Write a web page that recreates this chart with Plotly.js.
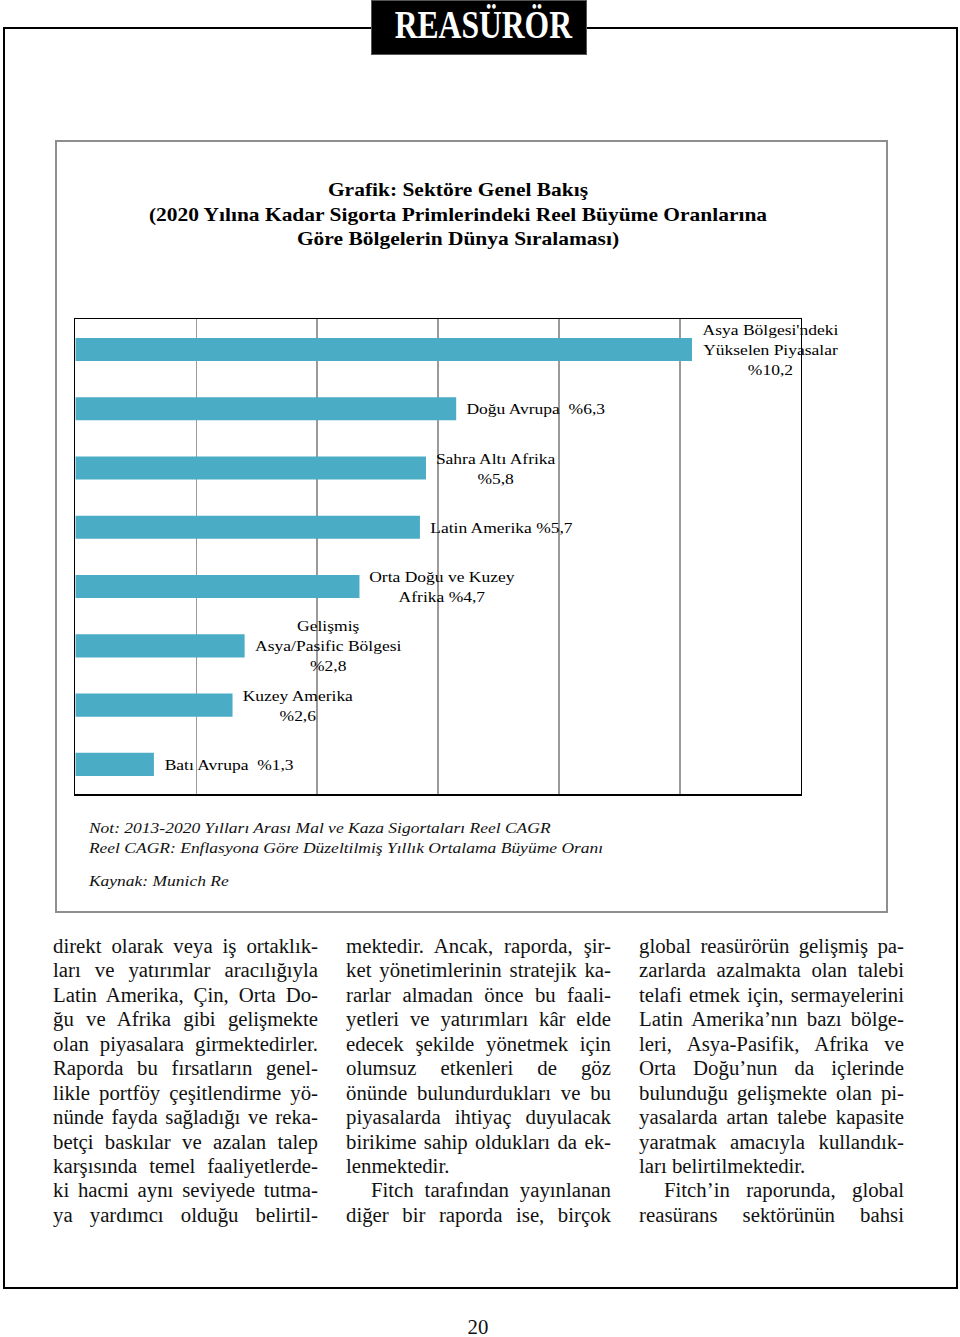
<!DOCTYPE html>
<html>
<head>
<meta charset="utf-8">
<script src="https://cdn.plot.ly/plotly-3.0.1.min.js"></script>
<style>
html,body{margin:0;padding:0;background:#fff;}
#page{position:relative;width:960px;height:1337px;overflow:hidden;background:#fff;font-family:"Liberation Serif","Times New Roman",serif;color:#111;}
#frame{position:absolute;left:3px;top:27px;width:955px;height:1262px;box-sizing:border-box;border:2px solid #000;}
#hdr{position:absolute;left:371px;top:0;width:216px;height:55px;background:#000;box-sizing:border-box;border:1px solid #555;}
#hdrtxt{position:absolute;left:0;top:4px;width:216px;text-align:center;font-size:40px;line-height:40px;font-weight:bold;color:#fff;transform:scaleX(0.79);transform-origin:50% 0;}
#chartwrap{position:absolute;left:55px;top:140px;width:832px;height:772px;overflow:hidden;}
#chart{position:absolute;left:0;top:0;transform-origin:0 0;}
#chartbox{position:absolute;left:55px;top:140px;width:833px;height:773px;box-sizing:border-box;border:2px solid #8e8e8e;pointer-events:none;}
.col{position:absolute;top:934px;width:265px;font-size:20.8px;}
.ln{height:24.45px;line-height:24.45px;text-align:justify;text-align-last:justify;}
.ln.end{text-align:left;text-align-last:left;}
.ln.ind{padding-left:25px;}
#pno{position:absolute;left:0;width:956px;top:1315px;text-align:center;font-size:20.8px;line-height:24px;}
</style>
</head>
<body>
<div id="page">
  <div id="frame"></div>
  <div id="hdr"><div id="hdrtxt">REASÜRÖR</div></div>
  <div id="chartwrap"><div id="chart"></div></div>
  <div id="chartbox"></div>

  <div class="col" style="left:53px;">
    <div class="ln">direkt olarak veya iş ortaklık-</div>
    <div class="ln">ları ve yatırımlar aracılığıyla</div>
    <div class="ln">Latin Amerika, Çin, Orta Do-</div>
    <div class="ln">ğu ve Afrika gibi gelişmekte</div>
    <div class="ln">olan piyasalara girmektedirler.</div>
    <div class="ln">Raporda bu fırsatların genel-</div>
    <div class="ln">likle portföy çeşitlendirme yö-</div>
    <div class="ln">nünde fayda sağladığı ve reka-</div>
    <div class="ln">betçi baskılar ve azalan talep</div>
    <div class="ln">karşısında temel faaliyetlerde-</div>
    <div class="ln">ki hacmi aynı seviyede tutma-</div>
    <div class="ln">ya yardımcı olduğu belirtil-</div>
  </div>
  <div class="col" style="left:346px;">
    <div class="ln">mektedir. Ancak, raporda, şir-</div>
    <div class="ln">ket yönetimlerinin stratejik ka-</div>
    <div class="ln">rarlar almadan önce bu faali-</div>
    <div class="ln">yetleri ve yatırımları kâr elde</div>
    <div class="ln">edecek şekilde yönetmek için</div>
    <div class="ln">olumsuz etkenleri de göz</div>
    <div class="ln">önünde bulundurdukları ve bu</div>
    <div class="ln">piyasalarda ihtiyaç duyulacak</div>
    <div class="ln">birikime sahip oldukları da ek-</div>
    <div class="ln end">lenmektedir.</div>
    <div class="ln ind">Fitch tarafından yayınlanan</div>
    <div class="ln">diğer bir raporda ise, birçok</div>
  </div>
  <div class="col" style="left:639px;">
    <div class="ln">global reasürörün gelişmiş pa-</div>
    <div class="ln">zarlarda azalmakta olan talebi</div>
    <div class="ln">telafi etmek için, sermayelerini</div>
    <div class="ln">Latin Amerika’nın bazı bölge-</div>
    <div class="ln">leri, Asya-Pasifik, Afrika ve</div>
    <div class="ln">Orta Doğu’nun da içlerinde</div>
    <div class="ln">bulunduğu gelişmekte olan pi-</div>
    <div class="ln">yasalarda artan talebe kapasite</div>
    <div class="ln">yaratmak amacıyla kullandık-</div>
    <div class="ln end">ları belirtilmektedir.</div>
    <div class="ln ind">Fitch’in raporunda, global</div>
    <div class="ln">reasürans sektörünün bahsi</div>
  </div>
  <div id="pno">20</div>
</div>

<script>
// ---- data ----
const categories = [
  "Asya Bölgesi'ndeki Yükselen Piyasalar",
  "Doğu Avrupa",
  "Sahra Altı Afrika",
  "Latin Amerika",
  "Orta Doğu ve Kuzey Afrika",
  "Gelişmiş Asya/Pasific Bölgesi",
  "Kuzey Amerika",
  "Batı Avrupa"
];
const values = [10.2, 6.3, 5.8, 5.7, 4.7, 2.8, 2.6, 1.3];
const labelTexts = [
  "Asya Bölgesi'ndeki<br>Yükselen Piyasalar<br>%10,2",
  "Doğu Avrupa\u00a0 %6,3",
  "Sahra Altı Afrika<br>%5,8",
  "Latin Amerika %5,7",
  "Orta Doğu ve Kuzey<br>Afrika %4,7",
  "Gelişmiş<br>Asya/Pasific Bölgesi<br>%2,8",
  "Kuzey Amerika<br>%2,6",
  "Batı Avrupa\u00a0 %1,3"
];
const xTickVals = [0, 2, 4, 6, 8, 10, 12];
const titleText = "Grafik: Sektöre Genel Bakış<br>(2020 Yılına Kadar Sigorta Primlerindeki Reel Büyüme Oranlarına<br>Göre Bölgelerin Dünya Sıralaması)";
const noteLines = [
  "Not: 2013-2020 Yılları Arası Mal ve Kaza Sigortaları Reel CAGR",
  "Reel CAGR: Enflasyona Göre Düzeltilmiş Yıllık Ortalama Büyüme Oranı",
  "Kaynak: Munich Re"
];

// ---- layout geometry (page pixels) ----
const S = 1.13;                 // horizontal stretch of the original chart image
const boxW = 832, boxH = 772;   // chart box
const W = boxW / S;
const mL = 20 / S, mR = 86 / S, mT = 179, mB = 118;
const plotH = boxH - mT - mB;   // 475
const plotWpx = boxW - 20 - 86; // 726 (page px)
const serif = '"Liberation Serif", "Times New Roman", serif';

function pyPaper(pageY) { return (794 - pageY) / plotH; }
function pxPaper(pageX) { return (pageX - 75) / plotWpx; }

const chartEl = document.getElementById('chart');
chartEl.style.width = W + 'px';
chartEl.style.height = boxH + 'px';
chartEl.style.transform = 'scaleX(' + S + ')';

const trace = {
  type: 'bar',
  orientation: 'h',
  y: categories,
  x: values,
  marker: { color: '#4bacc6', line: { width: 0 } },
  hoverinfo: 'skip'
};

const annotations = categories.map((c, i) => ({
  x: values[i], y: c, xref: 'x', yref: 'y',
  text: labelTexts[i], showarrow: false,
  xanchor: 'left', yanchor: 'middle', xshift: 7, align: 'center',
  font: { family: serif, size: 15.5, color: '#000' }
}));

const noteYs = [827, 847, 880];
noteLines.forEach((t, i) => {
  annotations.push({
    x: pxPaper(85), y: pyPaper(noteYs[i]), xref: 'paper', yref: 'paper',
    text: '<i>' + t + '</i>', showarrow: false,
    xanchor: 'left', yanchor: 'middle', align: 'left',
    font: { family: serif, size: 15.5, color: '#111' }
  });
});

const layout = {
  width: W, height: boxH,
  margin: { l: mL, r: mR, t: mT, b: mB, pad: 0 },
  paper_bgcolor: '#ffffff', plot_bgcolor: '#ffffff',
  showlegend: false,
  bargap: 0.61,
  title: {
    text: titleText,
    font: { family: serif, size: 19, color: '#000', weight: 'bold' },
    x: (458 - 55) / boxW, xref: 'container', xanchor: 'center',
    y: 1 - (196 - 140) / boxH, yref: 'container', yanchor: 'top'
  },
  xaxis: {
    range: [0, 12], tickvals: xTickVals, showticklabels: false, ticks: '',
    showgrid: true, gridcolor: '#9a9a9a', gridwidth: 1.2, zeroline: false,
    showline: true, linecolor: '#000', linewidth: 1.5, mirror: true, fixedrange: true
  },
  yaxis: {
    type: 'category', autorange: 'reversed', showticklabels: false, ticks: '',
    showgrid: false, zeroline: false,
    showline: true, linecolor: '#000', linewidth: 1.5, mirror: true, fixedrange: true
  },
  annotations: annotations
};

Plotly.newPlot(chartEl, [trace], layout, { staticPlot: true, displayModeBar: false });
</script>
</body>
</html>
